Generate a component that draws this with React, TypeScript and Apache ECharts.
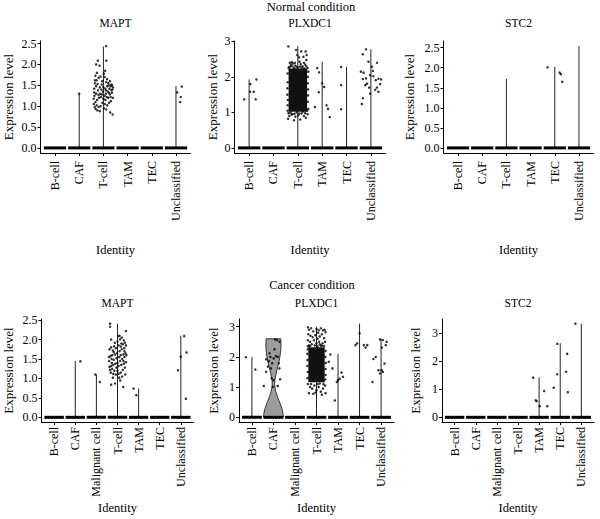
import React, { useEffect, useRef } from "react";
import * as echarts from "echarts";

// ---------- categories ----------
const normalCats = ["B-cell", "CAF", "T-cell", "TAM", "TEC", "Unclassified"];
const cancerCats = ["B-cell", "CAF", "Malignant cell", "T-cell", "TAM", "TEC", "Unclassified"];

// ---------- violin tops (max expression per identity) ----------
const normalMaptTops = [0, 1.3, 2.43, 0, 0, 1.48];
const normalPlxdc1Tops = [1.93, 0, 2.87, 2.43, 2.28, 2.78];
const normalStc2Tops = [0, 0, 1.72, 0, 2.02, 2.54];
const cancerMaptTops = [0, 1.45, 1.1, 2.41, 0.74, 0, 2.1];
const cancerPlxdc1Tops = [2.0, 2.6, 0, 3.0, 2.1, 3.1, 2.6];
const cancerStc2Tops = [0, 0, 0, 0, 1.43, 2.65, 3.35];

// CAF violin profile (cancer PLXDC1): [expression, half width]
const cancerPlxdc1CafProfile = [
  [0, 0.46], [0.1, 0.45], [0.25, 0.41], [0.4, 0.34], [0.55, 0.26], [0.7, 0.18],
  [0.85, 0.11], [1.0, 0.07], [1.12, 0.055], [1.25, 0.07], [1.4, 0.11], [1.55, 0.16],
  [1.7, 0.21], [1.85, 0.26], [2.0, 0.3], [2.15, 0.33], [2.3, 0.35], [2.45, 0.35], [2.6, 0.34],
];

// ---------- y ticks ----------
const normalMaptTicks = [0, 0.5, 1, 1.5, 2, 2.5];
const normalPlxdc1Ticks = [0, 1, 2, 3];
const normalStc2Ticks = [0, 0.5, 1, 1.5, 2, 2.5];
const cancerMaptTicks = [0, 0.5, 1, 1.5, 2, 2.5];
const cancerPlxdc1Ticks = [0, 1, 2, 3];
const cancerStc2Ticks = [0, 1, 2, 3];

// ---------- dense point cores: [cat, dxMin, dxMax, yMin, yMax] ----------
const normalPlxdc1Cores = [[2, -0.38, 0.38, 1.02, 2.24]];
const cancerPlxdc1Cores = [[3, -0.38, 0.38, 1.16, 2.32]];

// ---------- jittered points: [cat, dx, value] ----------
const normalMaptPoints = [
  [1, 0.0, 1.3],
  [2, -0.38, 1.42], [2, -0.33, 1.73], [2, -0.3, 2.0], [2, -0.23, 2.09], [2, -0.16, 1.97], [2, 0.12, 2.09],
  [2, 0.11, 2.44], [2, 0.07, 1.85], [2, -0.28, 1.62], [2, -0.35, 1.55], [2, -0.2, 1.68], [2, -0.12, 1.71],
  [2, -0.05, 1.6], [2, 0.02, 1.78], [2, 0.15, 1.65], [2, 0.22, 1.5], [2, 0.3, 1.48], [2, 0.36, 1.5],
  [2, 0.4, 1.45], [2, 0.33, 1.38], [2, 0.25, 1.42], [2, 0.18, 1.35], [2, 0.1, 1.3], [2, 0.05, 1.25],
  [2, -0.02, 1.35], [2, -0.08, 1.4], [2, -0.15, 1.45], [2, -0.22, 1.38], [2, -0.3, 1.3], [2, -0.37, 1.25],
  [2, -0.4, 1.18], [2, -0.33, 1.1], [2, -0.26, 1.15], [2, -0.18, 1.2], [2, -0.1, 1.22], [2, 0.0, 1.18],
  [2, 0.08, 1.15], [2, 0.14, 1.22], [2, 0.2, 1.2], [2, 0.27, 1.28], [2, 0.35, 1.32], [2, 0.39, 1.2],
  [2, 0.31, 1.12], [2, 0.23, 1.08], [2, 0.16, 1.02], [2, 0.06, 1.05], [2, -0.04, 1.08], [2, -0.12, 1.0],
  [2, -0.2, 0.98], [2, -0.28, 1.02], [2, -0.36, 0.98], [2, -0.4, 1.05], [2, -0.25, 0.9], [2, -0.15, 0.88],
  [2, 0.03, 0.95], [2, 0.12, 0.92], [2, 0.28, 0.85], [2, 0.38, 0.8], [2, -0.32, 0.93], [2, 0.2, 1.55],
  [2, 0.12, 1.58], [2, -0.3, 1.48], [2, -0.07, 1.52], [2, 0.27, 1.6], [2, -0.24, 1.53], [2, 0.08, 1.42],
  [2, -0.13, 1.3], [2, 0.3, 1.22], [2, 0.37, 1.4], [2, -0.38, 1.33], [2, 0.0, 1.46], [2, -0.2, 1.27],
  [2, 0.1, 1.38], [2, 0.23, 1.32], [2, -0.06, 1.28], [2, 0.16, 1.48], [2, 0.33, 1.52], [2, -0.35, 1.62],
  [2, 0.05, 1.7], [2, -0.27, 1.8],
  [5, 0.05, 1.33], [5, 0.24, 1.47], [5, 0.2, 1.22], [5, 0.17, 1.1],
];

const normalPlxdc1Points = [
  [0, -0.2, 1.37], [0, 0.04, 1.58], [0, 0.19, 1.58], [0, 0.3, 1.93], [0, 0.27, 1.37], [0, 0.05, 1.8],
  // T-cell outskirts of the dense cloud
  [2, -0.39, 2.86], [2, -0.07, 2.76], [2, 0.14, 2.72], [2, 0.32, 2.72], [2, 0.35, 2.48], [2, 0.23, 2.57],
  [2, 0.07, 2.43], [2, -0.2, 2.38], [2, -0.3, 2.3], [2, -0.38, 2.25], [2, -0.1, 2.32], [2, 0.0, 2.27],
  [2, 0.2, 2.3], [2, 0.3, 2.35], [2, 0.4, 2.25], [2, -0.25, 2.42], [2, 0.12, 2.36], [2, -0.15, 2.25],
  [2, 0.27, 2.24], [2, -0.33, 2.4], [2, 0.05, 2.55], [2, -0.02, 2.62], [2, 0.36, 2.62],
  [2, -0.36, 2.28], [2, -0.22, 2.3], [2, -0.05, 2.28], [2, 0.1, 2.29], [2, 0.17, 2.26], [2, 0.35, 2.3],
  [2, -0.28, 2.35], [2, 0.25, 2.4], [2, -0.12, 2.4],
  [2, -0.4, 0.82], [2, -0.35, 0.9], [2, -0.22, 0.95], [2, -0.1, 0.88], [2, 0.02, 0.92], [2, 0.15, 0.97],
  [2, 0.25, 0.9], [2, 0.33, 0.85], [2, 0.4, 0.95], [2, -0.3, 1.0], [2, 0.1, 0.8], [2, -0.05, 1.0],
  [2, 0.2, 1.02], [2, -0.16, 0.78], [2, 0.38, 1.05], [2, -0.38, 0.98], [2, -0.26, 0.94], [2, 0.06, 0.97],
  [2, 0.3, 0.98], [2, -0.14, 0.96],
  [2, -0.42, 1.2], [2, -0.43, 1.5], [2, -0.42, 1.85], [2, 0.41, 1.3], [2, 0.42, 1.65], [2, 0.41, 2.0],
  [2, -0.42, 2.1], [2, 0.43, 1.1], [2, -0.41, 1.35], [2, -0.43, 1.68], [2, 0.42, 1.48], [2, 0.41, 1.82],
  [2, 0.43, 2.15], [2, -0.42, 1.05],
  [3, -0.2, 2.25], [3, -0.13, 2.13], [3, 0.0, 1.82], [3, 0.08, 1.72], [3, -0.14, 1.57], [3, -0.3, 1.15],
  [3, 0.18, 1.2], [3, 0.24, 1.1], [3, 0.31, 0.87],
  [4, -0.22, 2.28], [4, -0.22, 1.77], [4, -0.22, 1.09],
  [5, -0.33, 2.64], [5, -0.2, 2.78], [5, -0.1, 2.43], [5, 0.04, 2.29], [5, 0.25, 2.4], [5, -0.41, 2.15],
  [5, -0.3, 2.12], [5, -0.2, 1.96], [5, -0.33, 1.94], [5, -0.03, 2.05], [5, 0.1, 2.02], [5, 0.2, 1.91],
  [5, 0.31, 1.95], [5, 0.38, 1.8], [5, 0.25, 1.7], [5, 0.18, 1.64], [5, -0.16, 1.81], [5, -0.23, 1.77],
  [5, -0.07, 1.7], [5, -0.03, 1.53], [5, -0.33, 1.4], [5, -0.37, 1.24], [5, 0.31, 1.58], [5, 0.42, 1.93],
  [5, 0.08, 2.17],
];

const normalStc2Points = [
  [4, -0.3, 2.01], [4, 0.2, 1.88], [4, 0.25, 1.84], [4, 0.31, 1.65],
];

const cancerMaptPoints = [
  [1, 0.24, 1.44],
  [2, -0.05, 1.1], [2, 0.16, 0.91],
  [3, -0.35, 2.41], [3, -0.35, 2.33], [3, 0.4, 2.22], [3, 0.03, 2.09], [3, 0.12, 2.01], [3, 0.3, 1.98],
  [3, -0.16, 1.83], [3, -0.3, 1.8], [3, -0.38, 1.75], [3, -0.22, 1.72], [3, -0.08, 1.78], [3, 0.05, 1.85],
  [3, 0.18, 1.9], [3, 0.25, 1.88], [3, 0.35, 1.92], [3, 0.4, 1.85], [3, 0.32, 1.78], [3, 0.2, 1.75],
  [3, 0.1, 1.7], [3, -0.02, 1.65], [3, -0.12, 1.62], [3, -0.25, 1.6], [3, -0.33, 1.58], [3, -0.4, 1.55],
  [3, -0.28, 1.5], [3, -0.18, 1.48], [3, -0.05, 1.52], [3, 0.08, 1.55], [3, 0.15, 1.6], [3, 0.28, 1.62],
  [3, 0.38, 1.65], [3, 0.33, 1.55], [3, 0.22, 1.5], [3, 0.12, 1.45], [3, 0.0, 1.4], [3, -0.1, 1.38],
  [3, -0.2, 1.35], [3, -0.3, 1.32], [3, -0.38, 1.3], [3, -0.35, 1.22], [3, -0.25, 1.25], [3, -0.15, 1.2],
  [3, -0.05, 1.28], [3, 0.05, 1.32], [3, 0.18, 1.35], [3, 0.3, 1.38], [3, 0.4, 1.42], [3, 0.35, 1.28],
  [3, 0.25, 1.22], [3, 0.15, 1.15], [3, 0.05, 1.12], [3, -0.08, 1.1], [3, -0.2, 1.12], [3, -0.32, 1.15],
  [3, -0.3, 0.84], [3, -0.12, 0.87], [3, 0.27, 0.78], [3, 0.13, 0.95], [3, -0.22, 1.02], [3, 0.22, 1.05],
  [3, 0.37, 1.1], [3, 0.0, 1.95], [3, -0.13, 1.92], [3, 0.1, 2.1], [3, 0.2, 2.05], [3, -0.3, 2.0],
  [3, 0.08, 1.02], [3, 0.33, 1.7], [3, -0.4, 1.45], [3, 0.42, 1.6], [3, 0.28, 1.45], [3, -0.18, 1.68],
  [3, 0.16, 1.82], [3, -0.27, 1.4], [3, 0.0, 1.2],
  [4, -0.24, 0.74], [4, -0.11, 0.57],
  [6, -0.13, 1.21], [6, 0.0, 1.56], [6, 0.16, 2.09], [6, 0.27, 1.67], [6, 0.24, 0.48],
];

const cancerPlxdc1Points = [
  [0, -0.28, 1.99], [0, 0.16, 1.58],
  [1, -0.45, 1.04], [1, -0.34, 1.51], [1, -0.26, 1.68], [1, -0.22, 1.86], [1, -0.34, 1.92], [1, -0.14, 2.0],
  [1, -0.06, 1.79], [1, 0.01, 1.95], [1, 0.12, 2.03], [1, 0.2, 2.0], [1, 0.25, 1.79], [1, 0.28, 1.62],
  [1, 0.08, 2.58], [1, 0.17, 2.56], [1, 0.28, 2.5], [1, -0.08, 1.29], [1, 0.01, 1.23], [1, 0.2, 1.04],
  [1, 0.31, 1.26], [1, -0.03, 1.01], [1, -0.18, 2.12], [1, 0.05, 2.25], [1, -0.12, 1.62],
  // T-cell outskirts of the dense cloud
  [3, -0.4, 2.98], [3, -0.35, 2.9], [3, -0.25, 2.95], [3, -0.15, 2.85], [3, 0.0, 2.92], [3, 0.1, 2.88],
  [3, 0.2, 2.95], [3, 0.3, 2.88], [3, 0.38, 2.9], [3, 0.42, 2.82], [3, -0.38, 2.75], [3, -0.28, 2.7],
  [3, -0.18, 2.65], [3, -0.05, 2.72], [3, 0.05, 2.6], [3, 0.15, 2.68], [3, 0.25, 2.75], [3, 0.35, 2.62],
  [3, -0.4, 2.55], [3, -0.3, 2.5], [3, -0.12, 2.55], [3, 0.0, 2.45], [3, 0.12, 2.5], [3, 0.28, 2.45],
  [3, 0.4, 2.5], [3, -0.22, 2.42], [3, 0.2, 2.38], [3, -0.35, 2.38], [3, 0.35, 2.36], [3, 0.08, 2.8],
  [3, -0.3, 2.36], [3, -0.08, 2.38], [3, 0.05, 2.35], [3, 0.25, 2.37], [3, -0.4, 2.35], [3, 0.15, 2.42],
  [3, -0.4, 1.1], [3, -0.3, 1.0], [3, -0.2, 0.95], [3, -0.1, 1.05], [3, 0.0, 0.9], [3, 0.1, 1.0],
  [3, 0.2, 0.85], [3, 0.3, 0.95], [3, 0.4, 1.05], [3, -0.35, 0.8], [3, 0.25, 0.75], [3, -0.15, 0.78],
  [3, 0.42, 0.8], [3, 0.05, 1.1], [3, -0.05, 0.82], [3, -0.25, 1.1], [3, 0.15, 1.12], [3, 0.32, 1.1],
  [3, -0.42, 1.3], [3, -0.43, 1.7], [3, -0.42, 2.1], [3, 0.42, 1.4], [3, 0.43, 1.8], [3, 0.42, 2.2],
  [3, -0.41, 1.5], [3, -0.42, 1.9], [3, 0.41, 1.25], [3, 0.42, 1.6], [3, 0.41, 2.0], [3, -0.41, 2.25],
  [4, -0.36, 2.08], [4, -0.43, 1.84], [4, -0.26, 1.62], [4, 0.0, 1.23], [4, 0.08, 1.28], [4, 0.16, 1.48],
  [4, 0.23, 1.34], [4, -0.15, 0.56], [4, -0.06, 1.17],
  [5, -0.19, 2.39], [5, -0.11, 2.45], [5, 0.0, 2.78], [5, 0.2, 2.39], [5, 0.28, 2.31], [5, 0.36, 2.39],
  [6, -0.05, 2.58], [6, 0.08, 2.56], [6, 0.03, 2.31], [6, 0.26, 2.5], [6, -0.25, 2.0], [6, -0.36, 1.93],
  [6, -0.12, 1.56], [6, 0.03, 1.56], [6, 0.08, 1.5], [6, 0.16, 1.78], [6, -0.05, 1.45], [6, -0.4, 1.17],
  [6, 0.22, 2.39],
];

const cancerStc2Points = [
  [4, -0.28, 1.42], [4, -0.16, 0.61], [4, -0.12, 0.58], [4, 0.03, 0.4], [4, 0.24, 0.94], [4, 0.39, 0.4],
  [5, -0.14, 2.63], [5, -0.31, 1.06], [5, -0.14, 1.54], [5, 0.33, 2.27], [5, 0.28, 1.63], [5, 0.36, 0.9],
  [6, -0.28, 3.35],
];

// ---------- layout ----------
const FONT = "Liberation Serif";
const ZERO_HALF = 0.46;

const panels = [
  { title: "MAPT", cats: normalCats, tops: normalMaptTops, ticks: normalMaptTicks, pts: normalMaptPoints, cores: [], profiles: {}, dec: 1, left: 40.5, width: 150, top: 41, height: 112, ylabX: 8, lblMargin: 8 },
  { title: "PLXDC1", cats: normalCats, tops: normalPlxdc1Tops, ticks: normalPlxdc1Ticks, pts: normalPlxdc1Points, cores: normalPlxdc1Cores, profiles: {}, dec: 0, left: 234.5, width: 151, top: 41, height: 112, ylabX: 212, lblMargin: 8 },
  { title: "STC2", cats: normalCats, tops: normalStc2Tops, ticks: normalStc2Ticks, pts: normalStc2Points, cores: [], profiles: {}, dec: 1, left: 443.5, width: 150, top: 41, height: 112, ylabX: 409, lblMargin: 8 },
  { title: "MAPT", cats: cancerCats, tops: cancerMaptTops, ticks: cancerMaptTicks, pts: cancerMaptPoints, cores: [], profiles: {}, dec: 1, left: 41.5, width: 152, top: 319, height: 103, ylabX: 8, lblMargin: 5 },
  { title: "PLXDC1", cats: cancerCats, tops: cancerPlxdc1Tops, ticks: cancerPlxdc1Ticks, pts: cancerPlxdc1Points, cores: cancerPlxdc1Cores, profiles: { 1: cancerPlxdc1CafProfile }, dec: 0, left: 239, width: 155, top: 319, height: 103, ylabX: 213, lblMargin: 5 },
  { title: "STC2", cats: cancerCats, tops: cancerStc2Tops, ticks: cancerStc2Ticks, pts: cancerStc2Points, cores: [], profiles: {}, dec: 0, left: 442, width: 152, top: 319, height: 103, ylabX: 415, lblMargin: 5 },
];

function txt(text: string, x: number, y: number, size: number, rotation = 0) {
  return {
    type: "text", x, y, rotation,
    style: { text, fontSize: size, fontFamily: FONT, fontWeight: "normal", fill: "#000", align: "center", verticalAlign: "middle" },
  };
}

function buildOption() {
  const grid: any[] = [];
  const xAxis: any[] = [];
  const yAxis: any[] = [];
  const series: any[] = [];
  const graphic: any[] = [];

  panels.forEach((p: any, i: number) => {
    const n = p.cats.length;
    const dataMax = Math.max(...p.tops, ...p.pts.map((d: number[]) => d[2]));
    grid.push({ left: p.left, top: p.top, width: p.width, height: p.height });
    xAxis.push({
      type: "value", gridIndex: i, min: -0.6, max: n - 1 + 0.6,
      axisLine: { show: true, onZero: false, lineStyle: { color: "#000", width: 1 } },
      axisTick: { show: true, length: 3, customValues: p.cats.map((_: string, k: number) => k), lineStyle: { color: "#000" } },
      axisLabel: {
        show: true, rotate: 90, margin: p.lblMargin, fontSize: 12, color: "#000", fontFamily: FONT,
        customValues: p.cats.map((_: string, k: number) => k),
        formatter: (v: number) => p.cats[Math.round(v)] ?? "",
      },
      splitLine: { show: false },
    });
    yAxis.push({
      type: "value", gridIndex: i, min: -0.05 * dataMax, max: 1.05 * dataMax,
      axisLine: { show: true, onZero: false, lineStyle: { color: "#000", width: 1 } },
      axisTick: { show: true, length: 3, customValues: p.ticks, lineStyle: { color: "#000" } },
      axisLabel: {
        show: true, margin: 4, fontSize: 12, color: "#000", fontFamily: FONT,
        customValues: p.ticks,
        formatter: (v: number) => v.toFixed(p.dec),
      },
      splitLine: { show: false },
    });

    // violins + zero band
    series.push({
      type: "custom", xAxisIndex: i, yAxisIndex: i, silent: true, z: 2,
      data: p.tops.map((t: number, k: number) => [k, t]),
      renderItem: (params: any, api: any) => {
        const cat = api.value(0);
        const top = api.value(1);
        const children: any[] = [];
        const prof = p.profiles[cat];
        if (prof) {
          const leftSide = prof.map((d: number[]) => api.coord([cat - d[1], d[0]]));
          const rightSide = prof.slice().reverse().map((d: number[]) => api.coord([cat + d[1], d[0]]));
          children.push({
            type: "polygon", shape: { points: leftSide.concat(rightSide) },
            style: { fill: "#9c9c9c", stroke: "#111", lineWidth: 0.8 },
          });
        } else if (top > 0) {
          const a = api.coord([cat, 0]);
          const b = api.coord([cat, top]);
          children.push({
            type: "line", shape: { x1: a[0], y1: a[1], x2: b[0], y2: b[1] },
            style: { stroke: "#222", lineWidth: 1 },
          });
        }
        const z0 = api.coord([cat - ZERO_HALF, 0]);
        const z1 = api.coord([cat + ZERO_HALF, 0]);
        children.push({
          type: "rect", shape: { x: z0[0], y: z0[1] - 1.5, width: z1[0] - z0[0], height: 3 },
          style: { fill: "#000" },
        });
        return { type: "group", children };
      },
    });

    if (p.cores.length) {
      series.push({
        type: "custom", xAxisIndex: i, yAxisIndex: i, silent: true, z: 3,
        data: p.cores,
        renderItem: (params: any, api: any) => {
          const cat = api.value(0);
          const a = api.coord([cat + api.value(1), api.value(4)]);
          const b = api.coord([cat + api.value(2), api.value(3)]);
          return {
            type: "rect", shape: { x: a[0], y: a[1], width: b[0] - a[0], height: b[1] - a[1] },
            style: { fill: "#111" },
          };
        },
      });
    }

    series.push({
      type: "scatter", xAxisIndex: i, yAxisIndex: i, silent: true, z: 4,
      symbol: "circle", symbolSize: 2.5,
      itemStyle: { color: "#000" },
      data: p.pts.map((d: number[]) => [d[0] + d[1], d[2]]),
    });

    const cx = p.left + p.width / 2;
    const rowTop = p.top < 100;
    graphic.push(txt(p.title, cx, rowTop ? 23 : 303, 11.5));
    graphic.push(txt("Identity", cx, rowTop ? 250 : 508, 12.5));
    graphic.push(txt("Expression level", p.ylabX, p.top + p.height / 2, 13, Math.PI / 2));
  });

  graphic.push(txt("Normal condition", 311, 7, 12.5));
  graphic.push(txt("Cancer condition", 312, 285, 12.5));

  return {
    animation: false,
    backgroundColor: "#fff",
    textStyle: { fontFamily: FONT },
    grid, xAxis, yAxis, series, graphic,
  };
}

export default function App() {
  const ref = useRef<HTMLDivElement>(null);
  useEffect(() => {
    if (!ref.current) return;
    const chart = echarts.init(ref.current, undefined, { renderer: "svg" });
    chart.setOption(buildOption() as any);
    return () => chart.dispose();
  }, []);
  return (
    <div
      ref={ref}
      style={{ position: "fixed", left: 0, top: 0, width: 600, height: 519, background: "#fff" }}
    />
  );
}
